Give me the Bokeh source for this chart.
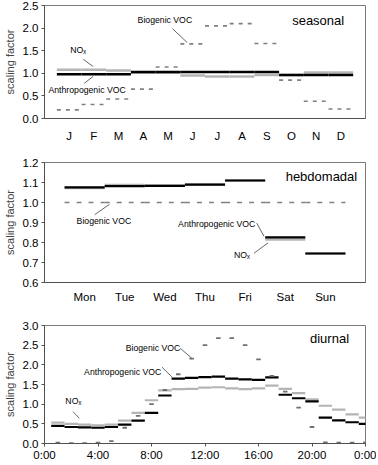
import numpy as np
from bokeh.plotting import figure
from bokeh.layouts import column
from bokeh.models import FixedTicker, Range1d, PrintfTickFormatter
from bokeh.core.properties import value
from bokeh.embed import file_html
from bokeh.resources import INLINE

FONT = "Liberation Sans"

# ---------------- data ----------------
months = ["J", "F", "M", "A", "M", "J", "J", "A", "S", "O", "N", "D"]
seasonal_anthro = [0.98, 0.98, 0.98, 1.03, 1.03, 1.03, 1.03, 1.03, 1.03, 0.96, 0.96, 0.96]
seasonal_nox = [1.08, 1.08, 1.06, 1.01, 1.01, 0.95, 0.93, 0.93, 0.96, 0.96, 1.02, 1.02]
seasonal_bio = [0.19, 0.31, 0.43, 0.65, 1.14, 1.65, 2.05, 2.10, 1.66, 0.85, 0.38, 0.21]

days = ["Mon", "Tue", "Wed", "Thu", "Fri", "Sat", "Sun"]
weekly_anthro = [1.076, 1.082, 1.083, 1.089, 1.110, 0.826, 0.745]
weekly_nox = [1.072, 1.088, 1.085, 1.090, 1.110, 0.815, 0.745]
weekly_bio = [1.0, 1.0, 1.0, 1.0, 1.0, 1.0, 1.0]

hour_ticks = [0, 4, 8, 12, 16, 20, 24]
hour_labels = ["0:00", "4:00", "8:00", "12:00", "16:00", "20:00", "0:00"]
hourly_anthro = [0.45, 0.42, 0.41, 0.40, 0.42, 0.48, 0.58, 0.78, 1.22, 1.65, 1.67, 1.69,
                 1.70, 1.65, 1.63, 1.62, 1.68, 1.24, 1.15, 1.07, 0.66, 0.59, 0.54, 0.50]
hourly_nox = [0.53, 0.50, 0.48, 0.46, 0.48, 0.58, 0.78, 1.10, 1.35, 1.38, 1.39, 1.42,
              1.43, 1.40, 1.38, 1.40, 1.47, 1.39, 1.28, 1.12, 0.96, 0.86, 0.74, 0.66]
hourly_bio = [0.02, 0.01, 0.01, 0.02, 0.06, 0.40, 0.70, 1.00, 1.36, 1.76, 2.16, 2.50,
              2.68, 2.68, 2.50, 2.14, 1.72, 1.32, 0.91, 0.42, 0.03, 0.02, 0.02, 0.03]

BLACK = "#000000"
GRAY = "#b4b4b4"
BIO = "#808080"
LEAD = "#404040"
W = 376


def make_fig(h, top, bottom, right, xr, yr, yticks):
    p = figure(width=W, height=h, x_range=xr, y_range=yr,
               output_backend="svg", toolbar_location=None,
               min_border_left=43, min_border_right=right,
               min_border_top=top, min_border_bottom=bottom)
    p.xgrid.visible = False
    p.ygrid.visible = False
    p.outline_line_color = "#7a7a7a"
    p.outline_line_width = 1
    for ax in (p.xaxis[0], p.yaxis[0]):
        ax.axis_line_color = "#505050"
        ax.major_label_text_font = FONT
        ax.major_label_text_font_size = "11.5px"
        ax.major_label_text_color = "black"
        ax.minor_tick_line_color = None
        ax.major_tick_line_color = "#505050"
    p.yaxis.ticker = FixedTicker(ticks=yticks)
    p.yaxis.formatter = PrintfTickFormatter(format="%.1f")
    p.yaxis.major_tick_out = 3
    p.yaxis.major_tick_in = 0
    p.yaxis.major_label_standoff = 3
    p.yaxis.axis_label = "scaling factor"
    p.yaxis.axis_label_text_font = FONT
    p.yaxis.axis_label_text_font_size = "11px"
    p.yaxis.axis_label_text_font_style = "normal"
    p.yaxis.axis_label_standoff = 4
    return p


def steps(p, pos, vals, color, width, dash="solid", half=0.5):
    pos = np.asarray(pos, dtype=float)
    vals = np.asarray(vals, dtype=float)
    p.segment(x0=pos - half, x1=pos + half, y0=vals, y1=vals,
              line_color=color, line_width=width, line_cap="butt", line_dash=dash)


def label(p, x, y, txt, size="8.7px"):
    p.text(x=[x], y=[y], text=[txt], text_font=value(FONT), text_font_size=size,
           text_baseline="middle", text_align="left", text_color="black")


def leader(p, x0, y0, x1, y1):
    p.segment(x0=[x0], y0=[y0], x1=[x1], y1=[y1], line_color=LEAD, line_width=0.8)


# ---------------- seasonal ----------------
mpos = np.arange(1, len(months) + 1)
p1 = make_fig(145, 5, 27, 9, Range1d(0, 13), Range1d(0, 2.5), [0, 0.5, 1.0, 1.5, 2.0, 2.5])
p1.xaxis.ticker = FixedTicker(ticks=list(mpos))
p1.xaxis.major_label_overrides = {int(i): m for i, m in zip(mpos, months)}
p1.xaxis.major_tick_line_color = None
p1.xaxis.major_label_standoff = 5
steps(p1, mpos, seasonal_bio, BIO, 1.6, dash="4 5")
steps(p1, mpos, seasonal_nox, GRAY, 2.5)
steps(p1, mpos, seasonal_anthro, BLACK, 2.5)
label(p1, 10.03, 2.17, "seasonal", "13px")
label(p1, 3.77, 2.19, "Biogenic VOC")
leader(p1, 5.18, 1.99, 5.78, 1.68)
label(p1, 1.04, 1.51, "NOₓ")
leader(p1, 1.57, 1.31, 1.97, 1.15)
label(p1, 0.16, 0.62, "Anthropogenic VOC")
leader(p1, 1.61, 0.78, 1.97, 0.93)

# ---------------- hebdomadal ----------------
dpos = np.arange(1, len(days) + 1)
p2 = make_fig(160, 17, 16, 11, Range1d(0, 8), Range1d(0.6, 1.2), [0.6, 0.7, 0.8, 0.9, 1.0, 1.1, 1.2])
p2.xaxis.ticker = FixedTicker(ticks=list(dpos))
p2.xaxis.major_label_overrides = {int(i): d for i, d in zip(dpos, days)}
p2.xaxis.major_tick_line_color = None
p2.xaxis.major_label_standoff = 2
steps(p2, dpos, weekly_bio, BIO, 1.6, dash="5 7")
steps(p2, dpos, weekly_nox, GRAY, 2.5)
steps(p2, dpos, weekly_anthro, BLACK, 2.2)
label(p2, 6.01, 1.128, "hebdomadal", "13px")
label(p2, 0.80, 0.906, "Biogenic VOC")
leader(p2, 1.25, 0.939, 1.62, 0.991)
label(p2, 3.33, 0.892, "Anthropogenic VOC")
leader(p2, 5.29, 0.897, 5.47, 0.831)
label(p2, 4.72, 0.736, "NOₓ")
leader(p2, 5.22, 0.746, 5.57, 0.798)

# ---------------- diurnal ----------------
hpos = np.arange(1, len(hourly_anthro) + 1)
p3 = make_fig(158, 20, 17, 9, Range1d(0, 24), Range1d(0, 3.0), [0, 0.5, 1.0, 1.5, 2.0, 2.5, 3.0])
p3.xaxis.ticker = FixedTicker(ticks=hour_ticks)
p3.xaxis.major_label_overrides = {t: l for t, l in zip(hour_ticks, hour_labels)}
p3.xaxis.major_tick_out = 3
p3.xaxis.major_tick_in = 0
p3.xaxis.major_label_standoff = 2
steps(p3, hpos, hourly_nox, GRAY, 2.2)
steps(p3, hpos, hourly_anthro, BLACK, 2.2)
steps(p3, hpos, hourly_bio, "#707070", 1.8, half=0.17)
label(p3, 19.85, 2.68, "diurnal", "13px")
label(p3, 6.07, 2.43, "Biogenic VOC")
leader(p3, 10.15, 2.42, 11.01, 2.17)
label(p3, 2.96, 1.81, "Anthropogenic VOC")
leader(p3, 8.79, 1.94, 9.53, 1.69)
label(p3, 1.56, 1.09, "NOₓ")
leader(p3, 2.13, 0.81, 2.61, 0.64)

layout = column(p1, p2, p3, spacing=0)
open("out.html", "w").write(file_html(layout, INLINE))
